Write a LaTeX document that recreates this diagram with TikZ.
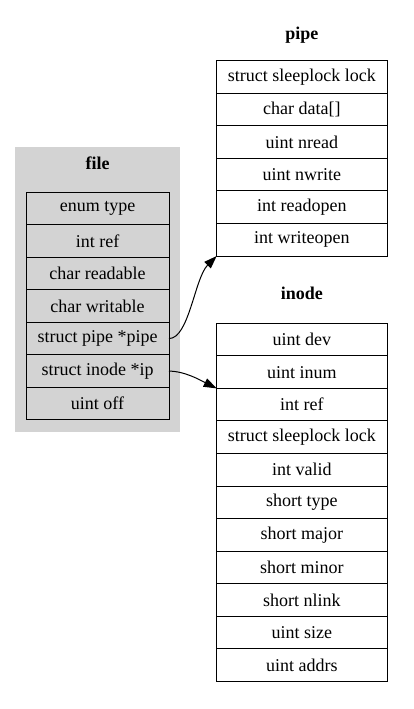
\documentclass[tikz,border=0pt]{standalone}
\usepackage{fontspec}
\setmainfont{Liberation Serif}
\usetikzlibrary{arrows.meta}
\definecolor{gvgray}{HTML}{D3D3D3}
\tikzset{
  cell/.style={draw=black, line width=1pt, rectangle, inner sep=0pt, outer sep=0pt,
    font=\fontsize{18}{21}\selectfont, anchor=north},
  fcell/.style={cell, fill=gvgray, minimum width=143pt, minimum height=32.57pt},
  pcell/.style={cell, fill=white, minimum width=170.3pt, minimum height=32.55pt},
  title/.style={font=\fontsize{18}{21}\selectfont\bfseries, inner sep=0pt},
  conn/.style={line width=1pt, -{Triangle[length=13pt,width=9pt]}},
}
\begin{document}
\begin{tikzpicture}[x=1pt,y=-1pt]
\useasboundingbox (0,0) rectangle (414,709);
% cluster background
\fill[gvgray] (15,147) rectangle (180,432);
\node[title] (ftitle) at (97.5,163) {file};
% file rows
\node[fcell] (f1) at (97.5,192) {enum type};
\node[fcell] (f2) at (f1.south) {int ref};
\node[fcell] (f3) at (f2.south) {char readable};
\node[fcell] (f4) at (f3.south) {char writable};
\node[fcell] (f5) at (f4.south) {struct pipe *pipe};
\node[fcell] (f6) at (f5.south) {struct inode *ip};
\node[fcell] (f7) at (f6.south) {uint off};
% pipe
\node[title] (ptitle) at (301.85,35) {pipe};
\node[pcell] (p1) at (301.85,60.7) {struct sleeplock lock};
\node[pcell] (p2) at (p1.south) {char data[]};
\node[pcell] (p3) at (p2.south) {uint nread};
\node[pcell] (p4) at (p3.south) {uint nwrite};
\node[pcell] (p5) at (p4.south) {int readopen};
\node[pcell] (p6) at (p5.south) {int writeopen};
% inode
\node[title] (ititle) at (301.85,293) {inode};
\node[pcell] (i1) at (301.85,323.3) {uint dev};
\node[pcell] (i2) at (i1.south) {uint inum};
\node[pcell] (i3) at (i2.south) {int ref};
\node[pcell] (i4) at (i3.south) {struct sleeplock lock};
\node[pcell] (i5) at (i4.south) {int valid};
\node[pcell] (i6) at (i5.south) {short type};
\node[pcell] (i7) at (i6.south) {short major};
\node[pcell] (i8) at (i7.south) {short minor};
\node[pcell] (i9) at (i8.south) {short nlink};
\node[pcell] (i10) at (i9.south) {uint size};
\node[pcell] (i11) at (i10.south) {uint addrs};
% edges
\draw[conn] (f5.east) .. controls +(20,0) and +(-22,22) .. (p6.south west);
\draw[conn] (f6.east) .. controls +(16,0) and +(-16,-8) .. (i2.south west);
\end{tikzpicture}
\end{document}
